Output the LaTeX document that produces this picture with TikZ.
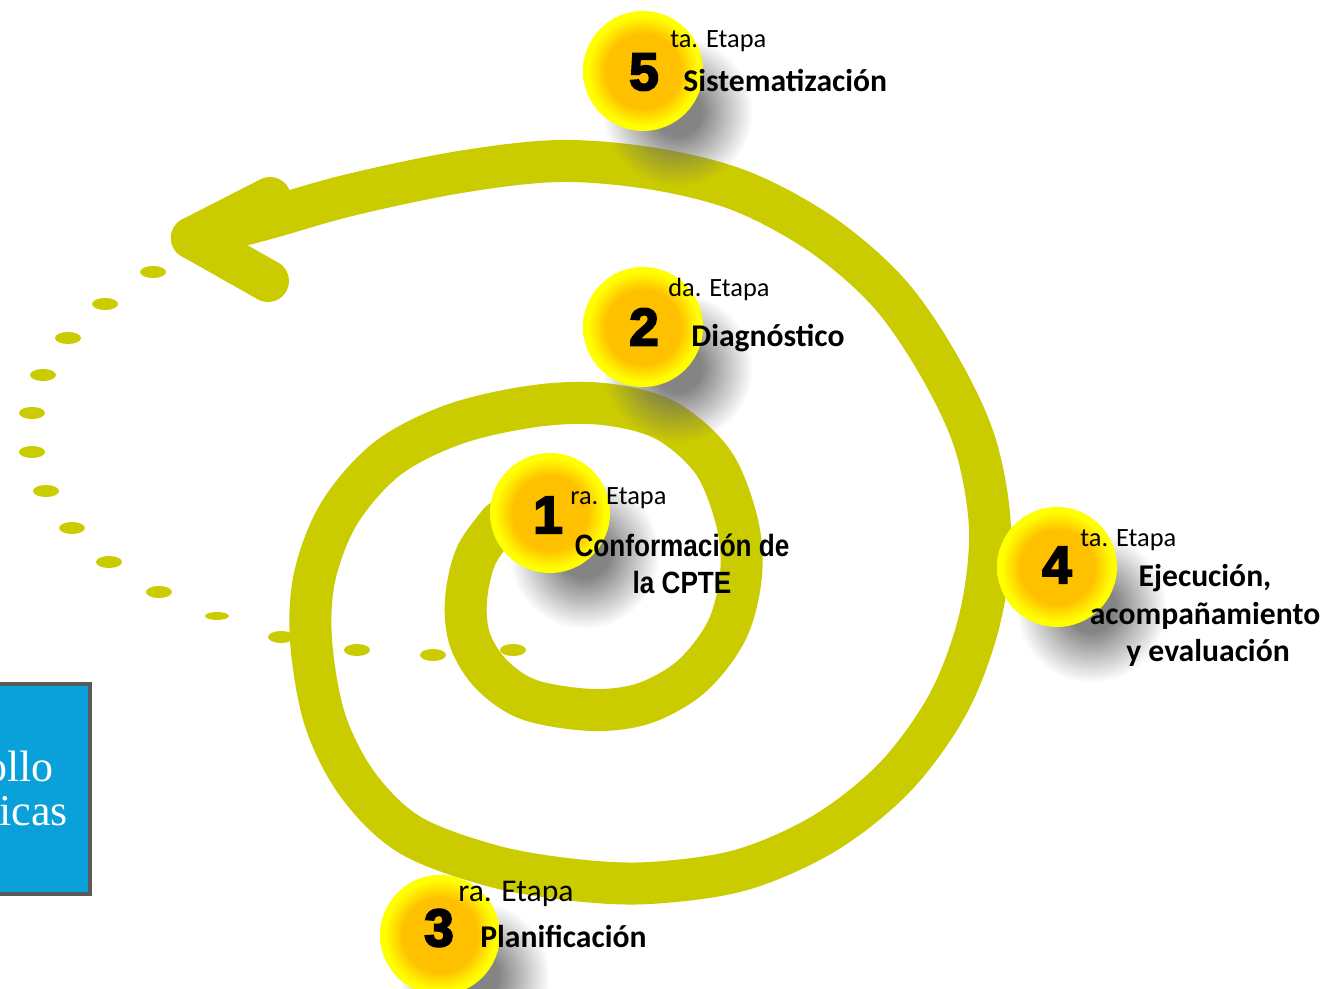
\documentclass[tikz,border=0pt]{standalone}
\usepackage{fontspec}
\setmainfont{Carlito}
\newfontfamily\narrowfont[FakeStretch=0.85]{Liberation Sans}
\newfontfamily\digitfont[FakeBold=4]{Liberation Sans}
\newfontfamily\boxfont{Liberation Serif}
\usetikzlibrary{shadows, fadings}

\definecolor{spiral}{HTML}{CBCC00}
\definecolor{ballin}{HTML}{FFC000}
\definecolor{ballout}{HTML}{FFFF00}
\definecolor{boxblue}{HTML}{0AA0D9}
\definecolor{boxgray}{HTML}{5A5A5A}
\pgfdeclareradialshading{etapaball}{\pgfpoint{0bp}{0bp}}{%
  color(0bp)=(ballin); color(15.5bp)=(ballin); color(23bp)=(ballout);
  color(25bp)=(ballout); color(50bp)=(ballout)}
\pgfdeclareradialshading{softshade}{\pgfpoint{0bp}{0bp}}{%
  color(0bp)=(white); color(8bp)=(white); color(25bp)=(black); color(50bp)=(black)}
\pgfdeclarefading{softshadow}{\pgfuseshading{softshade}}

\begin{document}
\begin{tikzpicture} [%
    x = 0.2mm, y = -0.2mm,
    band/.style = {%
      draw = spiral, line width = 8.4mm,
      line cap = round, line join = round },
    spiraldot/.style = {fill = spiral},
    etapa/.style = {%
      circle, minimum size = 24mm, inner sep = 0pt,
      shade, shading = etapaball,
      circular drop shadow = {shadow xshift = 5.5mm, shadow yshift = -6.5mm,
        shadow scale = 1.25, opacity = .8, fill = black!60,
        path fading = softshadow} },
    num/.style = {font = \digitfont\bfseries\fontsize{30}{30}\selectfont},
    ordinal/.style = {anchor = base west, inner sep = 0pt,
      font = \fontsize{15}{18}\selectfont},
    title/.style = {anchor = base west, inner sep = 0pt,
      font = \bfseries\fontsize{18}{21.6}\selectfont},
    titlec/.style = {anchor = base, inner sep = 0pt,
      font = \bfseries\fontsize{18}{21.6}\selectfont},
    narrowtitle/.style = {anchor = base, inner sep = 0pt,
      font = \narrowfont\bfseries\fontsize{17.5}{21}\selectfont},
    boxtext/.style = {anchor = base east, inner sep = 0pt, text = white,
      font = \boxfont\fontsize{25}{30}\selectfont}
  ]

\path[use as bounding box, fill = white] (0,0) rectangle (1326,989);

% box on the left
\draw[boxgray, line width = 0.8mm, fill = boxblue] (-30,684) rectangle (89.5,894);
\node[boxtext] (b_1) at (54,782) {ollo};
\node[boxtext] (b_2) at (68,826) {icas};

% dotted return
\fill[spiraldot] (153,272) ellipse [x radius = 13, y radius = 6]
  (105,304) ellipse [x radius = 13, y radius = 6]
  (68,338) ellipse [x radius = 13, y radius = 6]
  (43,375) ellipse [x radius = 13, y radius = 6]
  (32,413) ellipse [x radius = 13, y radius = 6]
  (32,452) ellipse [x radius = 13, y radius = 6]
  (46,491) ellipse [x radius = 13, y radius = 6]
  (72,528) ellipse [x radius = 13, y radius = 6]
  (109,562) ellipse [x radius = 13, y radius = 6]
  (159,592) ellipse [x radius = 13, y radius = 6]
  (217,616) ellipse [x radius = 12, y radius = 4]
  (281,637) ellipse [x radius = 13, y radius = 6]
  (357,650) ellipse [x radius = 13, y radius = 6]
  (433,655) ellipse [x radius = 13, y radius = 6]
  (513,650) ellipse [x radius = 13, y radius = 6];

% spiral
\draw[band] plot [smooth, tension = .55] coordinates {%
  (500,522) (476,556) (466,600) (470,640) (492,675) (530,700) (593,710)
  (645,703) (692,676) (727,630) (741,575) (737,522) (713,462) (665,420)
  (603,404) (535,406) (455,424) (388,458) (340,512) (315,575) (311,640)
  (325,720) (358,785) (410,835) (493,866) (575,880) (650,883) (741,870)
  (825,833) (896,776) (949,702) (980,618) (990,530) (975,443) (938,364)
  (888,292) (821,234) (741,191) (655,169) (560,161) (460,172) (350,195)
  (265,219) (192,238)};
\draw[band] (192,238) -- (270,198);
\draw[band] (192,238) -- (268,281);

% stages
\node[etapa] (e_5) at (643,71) {};
\node[etapa] (e_2) at (643,327) {};
\node[etapa] (e_1) at (550,513) {};
\node[etapa] (e_4) at (1057,567) {};
\node[etapa] (e_3) at (440,935) {};

\node[num] (n_5) at (644,72) {5};
\node[num] (n_2) at (644,327) {2};
\node[num] (n_1) at (548,515) {1};
\node[num] (n_4) at (1057,565) {4};
\node[num] (n_3) at (439,928) {3};

\node[ordinal] (o_5) at (670,48) {ta. Etapa};
\node[title]   (t_5) at (683,92) {Sistematización};

\node[ordinal] (o_2) at (668,297) {da. Etapa};
\node[title]   (t_2) at (691,347) {Diagnóstico};

\node[ordinal]     (o_1)  at (570,505) {ra. Etapa};
\node[narrowtitle] (t_1a) at (682,557) {Conformación de};
\node[narrowtitle] (t_1b) at (682,594) {la CPTE};

\node[ordinal] (o_4)  at (1080,547) {ta. Etapa};
\node[titlec]  (t_4a) at (1205,587) {Ejecución,};
\node[titlec]  (t_4b) at (1205,625) {acompañamiento};
\node[titlec]  (t_4c) at (1208,662) {y evaluación};

\node[ordinal, font = \fontsize{18}{21.6}\selectfont] (o_3) at (458,902) {ra. Etapa};
\node[title]   (t_3) at (480,948) {Planificación};

\end{tikzpicture}
\end{document}
